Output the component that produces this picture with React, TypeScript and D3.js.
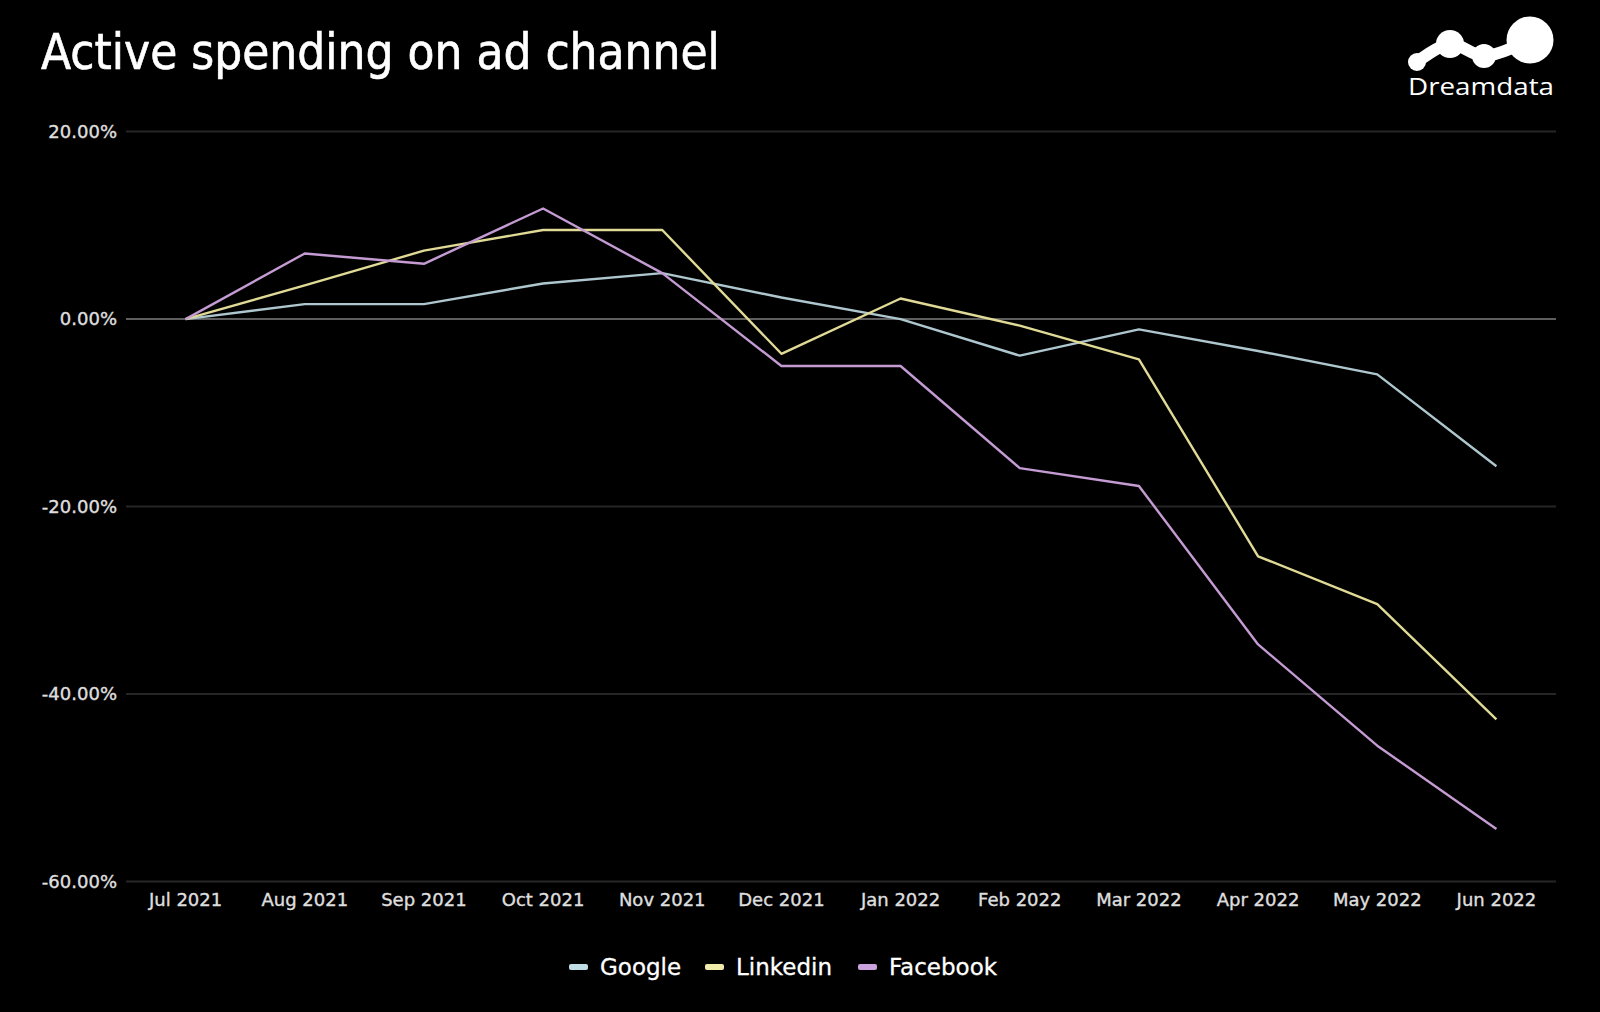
import React from "react";
import * as d3 from "d3";

const months = ["Jul 2021","Aug 2021","Sep 2021","Oct 2021","Nov 2021","Dec 2021","Jan 2022","Feb 2022","Mar 2022","Apr 2022","May 2022","Jun 2022"];
const google = [0, 1.6, 1.6, 3.8, 4.9, 2.3, 0, -3.9, -1.1, -3.4, -5.9, -15.7];
const linkedin = [0, 3.6, 7.3, 9.5, 9.5, -3.7, 2.2, -0.7, -4.3, -25.3, -30.4, -42.7];
const facebook = [0, 7.0, 5.9, 11.8, 4.9, -5.0, -5.0, -15.9, -17.8, -34.7, -45.5, -54.4];
const yTicks = [20, 0, -20, -40, -60];
const seriesNames = ["Google", "Linkedin", "Facebook"];
const seriesColors = ["#aec7cf", "#e0da96", "#c49bd3"];

const W = 1600, H = 1012;

export default function App() {
  const x = d3.scalePoint<string>().domain(months).range([126, 1556]).padding(0.5);
  const y = d3.scaleLinear().domain([-60, 20]).range([881.6, 131.6]);
  const series = [google, linkedin, facebook];
  const line = d3.line<number>().x((_, i) => x(months[i]) as number).y((d) => y(d));
  const font = "'DejaVu Sans', Verdana, sans-serif";
  const fmt = (t: number) => d3.format(".2f")(t).replace("\u2212", "-") + "%";

  const legendX = [569, 705, 858];
  const legendColors = ["#c0dce5", "#f0eba8", "#caa2dd"];
  const logoPts: [number, number][] = [[1417, 62], [1450, 44], [1484, 56], [1530, 40]];
  const logoR = [9, 14, 12, 23.5];
  const logoLine = d3.line().curve(d3.curveCatmullRom.alpha(0.5));

  return (
    <svg width={W} height={H} style={{ position: "fixed", left: 0, top: 0 }}>
      <rect x={0} y={0} width={W} height={H} fill="#000" />
      <text x={41} y={69} fill="#fff" fontSize={49} fontFamily="'DejaVu Sans Condensed', 'DejaVu Sans', sans-serif" style={{ fontStretch: "condensed" }} stroke="#fff" strokeWidth={0.6}>
        Active spending on ad channel
      </text>
      <g fill="#fff">
        <path d={logoLine(logoPts) || ""} stroke="#fff" strokeWidth={12} fill="none" />
        {logoPts.map((p, i) => (
          <circle key={i} cx={p[0]} cy={p[1]} r={logoR[i]} />
        ))}
        <text x={1408} y={95} fontSize={23} fontFamily="'Open Sans', sans-serif" textLength={146} lengthAdjust="spacingAndGlyphs">Dreamdata</text>
      </g>
      {yTicks.map((t) => (
        <g key={t}>
          <line x1={126} x2={1556} y1={y(t)} y2={y(t)} stroke={t === 0 ? "#5e5e5e" : "#262626"} strokeWidth={2} />
          <text x={117} y={y(t)} dy="0.35em" textAnchor="end" fill="#dedede" fontSize={18} fontFamily={font} stroke="#dedede" strokeWidth={0.4}>
            {fmt(t)}
          </text>
        </g>
      ))}
      {months.map((m) => (
        <text key={m} x={x(m)} y={900} dy="0.35em" textAnchor="middle" fill="#dedede" fontSize={18} fontFamily={font} stroke="#dedede" strokeWidth={0.4}>
          {m}
        </text>
      ))}
      {series.map((s, i) => (
        <path key={i} d={line(s) || ""} fill="none" stroke={seriesColors[i]} strokeWidth={2.4} strokeLinejoin="round" />
      ))}
      {seriesNames.map((n, i) => (
        <g key={n}>
          <rect x={legendX[i]} y={964} width={19} height={6} rx={2} fill={legendColors[i]} />
          <text x={legendX[i] + 31} y={967} dy="0.35em" fill="#fff" fontSize={23} fontFamily={font} stroke="#fff" strokeWidth={0.3}>{n}</text>
        </g>
      ))}
    </svg>
  );
}
